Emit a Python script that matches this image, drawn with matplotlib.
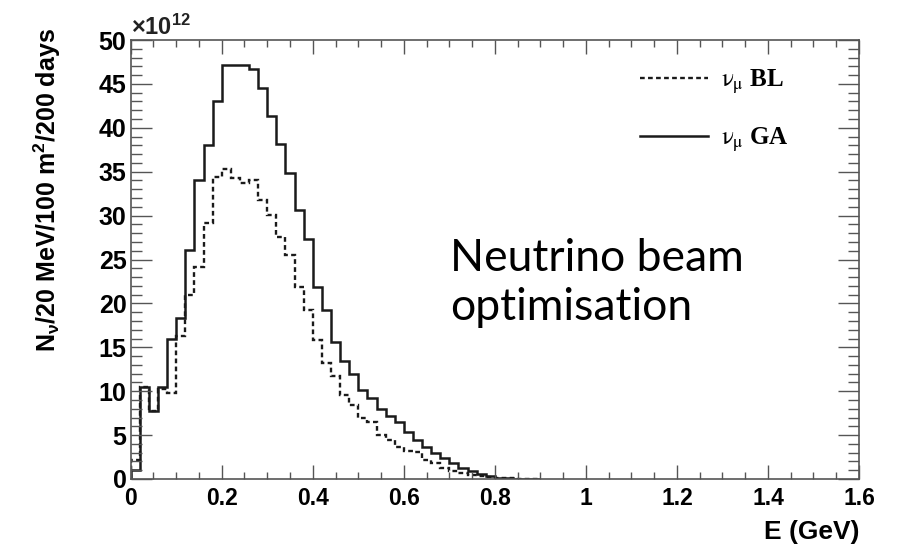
import numpy as np
import matplotlib.pyplot as plt
from matplotlib.ticker import MultipleLocator
from matplotlib.font_manager import FontProperties

plt.rcParams['mathtext.fontset'] = 'custom'
plt.rcParams['mathtext.rm'] = 'Liberation Sans:bold'
plt.rcParams['mathtext.it'] = 'Liberation Sans:bold'
plt.rcParams['mathtext.bf'] = 'Liberation Sans:bold'

# bin edges in GeV (20 MeV bins)
bin_width = 0.02
# neutrino flux per bin, units of 1e12
flux_ga = [1.0, 10.5, 7.8, 10.5, 16.0, 18.3, 26.1, 34.0, 38.0, 43.1,
           47.2, 47.2, 47.1, 46.7, 44.5, 41.3, 38.2, 34.9, 30.6, 27.3,
           21.9, 19.2, 15.6, 13.4, 12.0, 10.1, 9.2, 8.0, 7.2, 6.5,
           5.4, 4.4, 3.7, 3.0, 2.35, 1.8, 1.2, 0.9, 0.57, 0.3,
           0.15, 0.1, 0.05, 0.03, 0.0]
flux_bl = [2.2, 10.5, 7.8, 10.3, 9.8, 16.3, 21.0, 24.1, 29.2, 34.4,
           35.3, 34.3, 33.7, 34.0, 31.8, 30.1, 27.6, 25.5, 21.9, 19.2,
           15.8, 13.2, 11.7, 9.6, 8.4, 6.9, 6.5, 5.0, 4.4, 3.6,
           3.2, 3.1, 2.2, 1.8, 1.2, 0.95, 0.7, 0.5, 0.38, 0.25,
           0.15, 0.1, 0.05, 0.02, 0.0]
edges = np.arange(len(flux_ga) + 1) * bin_width

W, H = 905, 546
fig = plt.figure(figsize=(W / 100, H / 100), dpi=100)
ax = fig.add_axes([130.7 / W, 1 - 479 / H, (859 - 130.7) / W, (479 - 40) / H])

ax.stairs(flux_bl, edges, color='#1a1a1a', lw=1.7, linestyle=(0, (2, 1.4)),
          label=r'$\mathrm{\nu}_{\mathrm{\mu}}$ BL')
ax.stairs(flux_ga, edges, color='#1a1a1a', lw=1.8, label=r'$\mathrm{\nu}_{\mathrm{\mu}}$ GA')

ax.set_xlim(0, 1.6)
ax.set_ylim(0, 50)
axis_col = '#555555'
for s in ax.spines.values():
    s.set_color(axis_col)
    s.set_linewidth(1.2)

ax.xaxis.set_major_locator(MultipleLocator(0.2))
ax.xaxis.set_minor_locator(MultipleLocator(0.05))
ax.yaxis.set_major_locator(MultipleLocator(5))
ax.yaxis.set_minor_locator(MultipleLocator(1))
ax.tick_params(axis='both', which='both', direction='in', top=True, right=True,
               color=axis_col, width=1.0)
ax.tick_params(axis='x', which='major', length=10, pad=6)
ax.tick_params(axis='x', which='minor', length=5)
ax.tick_params(axis='y', which='major', length=15, pad=3)
ax.tick_params(axis='y', which='minor', length=8)
ax.set_xticks(np.arange(0, 1.61, 0.2))
ax.set_xticklabels(['0', '0.2', '0.4', '0.6', '0.8', '1', '1.2', '1.4', '1.6'],
                   fontfamily='Liberation Sans', fontweight='bold', fontsize=16.5)
ax.set_yticks(np.arange(0, 51, 5))
ax.set_yticklabels([str(v) for v in range(0, 51, 5)],
                   fontfamily='Liberation Sans', fontweight='bold', fontsize=18)

ax.text(0.0, 1.0, '×10$^{12}$', transform=ax.transAxes, ha='left', va='bottom',
        fontfamily='Liberation Sans', fontweight='bold', fontsize=17, color='#222222')

fig.text(859 / W, 1 - 532 / H, 'E (GeV)', ha='right', va='center',
         fontfamily='Liberation Sans', fontweight='bold', fontsize=19)
fig.text(47 / W, 1 - 28 / H, r'N$_{\mathrm{\nu}}$/20 MeV/100 m$^{2}$/200 days', rotation=90,
         ha='center', va='top', fontfamily='Liberation Sans', fontweight='bold', fontsize=18)

leg_font = FontProperties(family='Liberation Serif', weight='bold', size=18,
                          math_fontfamily='stix')
leg = ax.legend(loc='upper left', bbox_to_anchor=(627 / W, 1 - 55 / H),
                bbox_transform=fig.transFigure, frameon=False, borderpad=0,
                handlelength=2.75, handletextpad=0.5, labelspacing=1.2,
                prop=leg_font)

fig.text(450 / W, 1 - 320 / H, 'Neutrino beam\noptimisation', ha='left', va='baseline',
         fontfamily='Lato', fontsize=32, linespacing=1.25, color='black')

fig.savefig('out.png', dpi=100)
